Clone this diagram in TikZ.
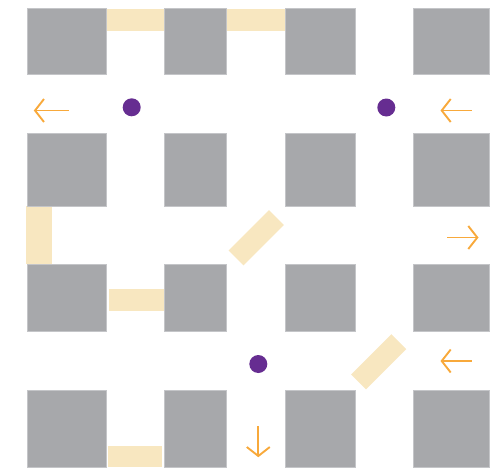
\documentclass[tikz,border=0pt]{standalone}
\usetikzlibrary{positioning}
\definecolor{blockgray}{HTML}{A7A8AB}
\definecolor{blockedge}{HTML}{C4C5C8}
\definecolor{padyellow}{HTML}{F8E7C0}
\definecolor{dotpurple}{HTML}{662D91}
\definecolor{arroworange}{HTML}{F8A93B}
\tikzset{
  x=1pt, y=-1pt,
  block/.style={fill=blockgray, draw=blockedge, line width=0.7pt},
  pad/.style={fill=padyellow},
  padnode/.style={fill=padyellow, inner sep=0pt, minimum width=57pt, minimum height=21pt, rotate=45},
  dotnode/.style={circle, fill=dotpurple, inner sep=0pt, minimum size=18pt},
  arrowline/.style={draw=arroworange, line width=1.9pt, line join=miter}
}
\newcommand\orarrow[4]{%
  \begin{scope}[shift={(#1,#2)},rotate=#3]
    \draw[arrowline] (0,0) -- (#4,0);
    \draw[arrowline] (9,-11.5) -- (0,0) -- (9,11.5);
  \end{scope}}
\begin{document}
\begin{tikzpicture}
\useasboundingbox (0,0) rectangle (500,467);
% yellow pads (behind blocks)
\fill[pad] (105,9) rectangle (164.5,31);
\fill[pad] (226,9) rectangle (286,31);
\fill[pad] (26,206) rectangle (52,263.7);
\fill[pad] (109,289) rectangle (165,311);
\fill[pad] (108,446) rectangle (162,467);
\node[padnode] (padA) at (256.2,237.7) {};
\node[padnode] (padB) at (378.7,361.8) {};
% grey blocks
\foreach \xa/\xb [count=\i] in {27/106, 164.3/226.7, 285/355, 413.3/489}{
  \foreach \ya/\yb [count=\j] in {8/74, 133/206, 264.3/331.7, 390.3/467.5}{
    \draw[block] (\xa,\ya) rectangle (\xb,\yb);
  }
}
% purple dots
\node[dotnode] (dotA) at (131.7,107.3) {};
\node[dotnode] (dotB) at (386.3,107.5) {};
\node[dotnode] (dotC) at (258.3,364) {};
% orange arrows
\orarrow{35}{110.5}{0}{34}
\orarrow{441.7}{110.5}{0}{30}
\orarrow{477.3}{237.5}{180}{30}
\orarrow{441.7}{361}{0}{30}
\orarrow{258.3}{456}{90}{30}
\end{tikzpicture}
\end{document}
